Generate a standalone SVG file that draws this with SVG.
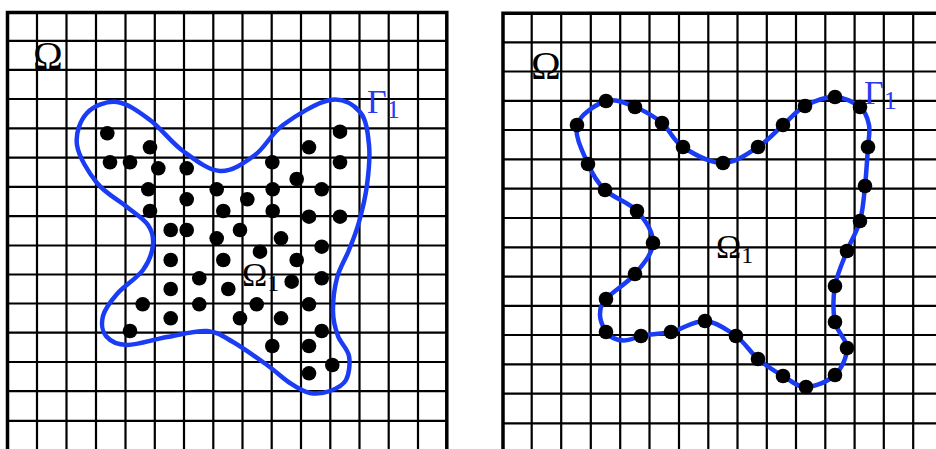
<svg xmlns="http://www.w3.org/2000/svg" width="936" height="449" viewBox="0 0 936 449">
<defs>
<style>
.grid{stroke:#000;stroke-width:2.2;fill:none}
.border{stroke:#000;stroke-width:3.5;fill:none;stroke-linecap:square}
.curve{stroke:#1a3cf4;stroke-width:4.5;fill:none;stroke-linejoin:round}
.dot{fill:#000}
.lbl{font-family:"Liberation Serif","Times New Roman",serif;fill:#000}
.gam{font-family:"Liberation Serif","Times New Roman",serif;fill:#2a3af0}
</style>
</defs>
<rect width="936" height="449" fill="#fff"/>

<g id="panel-left">
<g id="grid-left">
<path class="grid" d="M37,12.5V449M66.5,12.5V449M96,12.5V449M125.5,12.5V449M154.8,12.5V449M184,12.5V449M213.3,12.5V449M242.5,12.5V449M271.7,12.5V449M301,12.5V449M330.3,12.5V449M359.5,12.5V449M388.7,12.5V449M418,12.5V449
M7.5,40.8H446.8M7.5,69.8H446.8M7.5,99H446.8M7.5,128.3H446.8M7.5,157.6H446.8M7.5,186.9H446.8M7.5,216.2H446.8M7.5,245.5H446.8M7.5,274.5H446.8M7.5,303.5H446.8M7.5,332.7H446.8M7.5,362H446.8M7.5,391.2H446.8M7.5,420.8H446.8"/>
<path class="border" d="M7.5,449V12.5H446.8V449"/>
</g>
<g id="labels-left">
<text class="lbl" x="33" y="69" font-size="40">Ω</text>
<text class="lbl" x="242" y="286" font-size="34">Ω<tspan font-size="24" dy="5">1</tspan></text>
<text class="gam" x="367" y="113" font-size="34">Γ<tspan font-size="26" dy="5">1</tspan></text>
</g>
<g id="curve-left">
<path class="curve" d="M117,102 C127.5,103.2 139,111.8 150,120 S171.3,142.5 183,151 S208,170.3 220,171 S244.5,162.7 255,155 S270.5,134.2 283,125 S317.2,102.2 330,100 S353.5,104.5 360,112 S367.8,132.8 369,145 S368.7,172.2 367,185 S362,211.2 359,222 S352.7,240.7 349,250 S339.7,267.7 337,278 S332.8,302.3 333,312 S335.3,328.7 338,336 S347.7,348.7 349,356 S349.2,374.2 346,380 S336,388.8 330,391 S316.7,394.3 310,393 S297.2,387.7 290,383 S276.5,371.8 267,365 S243,347.7 233,342 S218,331.8 207,331 S180.3,334.7 167,337 S137.2,345.2 127,345 S110,340.8 106,336 S101.2,323 103,316 S110.3,301.7 117,294 S137,278.2 143,270 S152.2,252.5 153,245 S152.3,231.3 148,225 S135.5,214 127,207 S105.3,193.3 97,183 S78.7,156.7 77,145 S80.3,120.2 87,113 S106.5,100.8 117,102 Z"/>
</g>
<g id="dots-left" class="dot">
<circle cx="107.3" cy="133.3" r="7.3"/><circle cx="340" cy="131.7" r="7.3"/>
<circle cx="150" cy="147.3" r="7.3"/><circle cx="309" cy="147.3" r="7.3"/>
<circle cx="110" cy="162.3" r="7.3"/><circle cx="130" cy="162.3" r="7.3"/>
<circle cx="158.3" cy="168.3" r="7.3"/><circle cx="186.7" cy="168.3" r="7.3"/>
<circle cx="272.3" cy="162.3" r="7.3"/><circle cx="340" cy="162.3" r="7.3"/>
<circle cx="296.7" cy="179" r="7.3"/><circle cx="148.3" cy="189.3" r="7.3"/>
<circle cx="216.7" cy="189.3" r="7.3"/><circle cx="272.7" cy="189.3" r="7.3"/>
<circle cx="321.7" cy="189.3" r="7.3"/><circle cx="186.7" cy="199.3" r="7.3"/>
<circle cx="247.3" cy="199.3" r="7.3"/><circle cx="150" cy="211" r="7.3"/>
<circle cx="223.3" cy="211" r="7.3"/><circle cx="272.7" cy="211" r="7.3"/>
<circle cx="309" cy="216.7" r="7.3"/><circle cx="340" cy="216.7" r="7.3"/>
<circle cx="170.7" cy="230" r="7.3"/><circle cx="186.7" cy="230" r="7.3"/>
<circle cx="240" cy="230" r="7.3"/><circle cx="216.7" cy="238.3" r="7.3"/>
<circle cx="281" cy="238.3" r="7.3"/><circle cx="260" cy="251.7" r="7.3"/>
<circle cx="321.7" cy="246.7" r="7.3"/><circle cx="170.7" cy="260" r="7.3"/>
<circle cx="223.3" cy="260" r="7.3"/><circle cx="296.7" cy="260" r="7.3"/>
<circle cx="199.3" cy="278.3" r="7.3"/><circle cx="321.7" cy="278.3" r="7.3"/>
<circle cx="291.7" cy="281.7" r="7.3"/><circle cx="170.7" cy="289" r="7.3"/>
<circle cx="228.3" cy="289" r="7.3"/><circle cx="142.7" cy="304.3" r="7.3"/>
<circle cx="199.3" cy="304.3" r="7.3"/><circle cx="256.7" cy="304.3" r="7.3"/>
<circle cx="309" cy="304.3" r="7.3"/><circle cx="170.7" cy="318.3" r="7.3"/>
<circle cx="240" cy="318.3" r="7.3"/><circle cx="281" cy="318.3" r="7.3"/>
<circle cx="130" cy="331" r="7.3"/><circle cx="321.7" cy="331" r="7.3"/>
<circle cx="272.3" cy="346" r="7.3"/><circle cx="309" cy="346" r="7.3"/>
<circle cx="332.3" cy="365" r="7.3"/><circle cx="309" cy="373.3" r="7.3"/>
</g>
</g>

<g id="panel-right">
<g id="grid-right">
<path class="grid" d="M531.7,13.3V449M561.2,13.3V449M590.8,13.3V449M620.2,13.3V449M649.5,13.3V449M679,13.3V449M708.3,13.3V449M737.5,13.3V449M766.8,13.3V449M796,13.3V449M825.3,13.3V449M854.6,13.3V449M883.8,13.3V449M913.2,13.3V449
M502,42.3H936M502,71.5H936M502,100.8H936M502,130H936M502,159.3H936M502,188.6H936M502,218H936M502,247.3H936M502,276.6H936M502,305.8H936M502,335H936M502,364.3H936M502,393.6H936M502,423.3H936"/>
<path class="border" d="M503,449V13.3H938" stroke-width="4"/>
</g>
<g id="labels-right">
<text class="lbl" x="531" y="79" font-size="40">Ω</text>
<text class="lbl" x="716" y="258" font-size="34">Ω<tspan font-size="24" dy="5">1</tspan></text>
<text class="gam" x="864" y="104" font-size="34">Γ<tspan font-size="26" dy="5">1</tspan></text>
</g>
<g id="curve-right">
<path class="curve" d="M577,125 C580,114.5 596.3,104 606,101 S625.7,103.3 635,107 S654,116.3 662,123 S672.8,140.3 683,147 S710.5,163 723,163 S748,153.3 758,147 S775.2,131.8 783,125 S796.3,110.7 805,106 S825.8,96.8 835,97 S854.3,102.3 860,107 S867.7,118.3 869,125 S868.7,136.8 868,147 S866.3,173.7 865,186 S863,210.2 860,221 S851.2,240.2 847,251 S837,274.2 835,286 S833,311.7 835,322 S847,339.2 847,348 S841.8,368.5 835,375 S814.7,386.8 806,387 S791,380.7 783,376 S765.8,365.7 758,359 S744.8,342.3 736,336 S715.8,321.7 705,321 S681.7,329.5 671,332 S650,333.5 641,336 S631,340.5 624,340.5 S609,337 606,332 S600,320.5 600,315 S600.2,305.8 606,299 S627.2,283.3 635,274 S652.7,253.5 653,243 S645,219.8 637,211 S613.2,197.8 605,190 S592.7,174.8 588,164 S574,135.5 577,125 Z"/>
</g>
<g id="dots-right" class="dot">
<circle cx="577" cy="125" r="7.3"/><circle cx="606" cy="101" r="7.3"/>
<circle cx="635" cy="107" r="7.3"/><circle cx="662" cy="123" r="7.3"/>
<circle cx="683" cy="147" r="7.3"/><circle cx="723" cy="163" r="7.3"/>
<circle cx="758" cy="147" r="7.3"/><circle cx="783" cy="125" r="7.3"/>
<circle cx="805" cy="106" r="7.3"/><circle cx="835" cy="97" r="7.3"/>
<circle cx="860" cy="107" r="7.3"/><circle cx="868" cy="147" r="7.3"/>
<circle cx="865" cy="186" r="7.3"/><circle cx="860" cy="221" r="7.3"/>
<circle cx="847" cy="251" r="7.3"/><circle cx="835" cy="286" r="7.3"/>
<circle cx="835" cy="322" r="7.3"/><circle cx="847" cy="348" r="7.3"/>
<circle cx="835" cy="375" r="7.3"/><circle cx="806" cy="387" r="7.3"/>
<circle cx="783" cy="376" r="7.3"/><circle cx="758" cy="359" r="7.3"/>
<circle cx="736" cy="336" r="7.3"/><circle cx="705" cy="321" r="7.3"/>
<circle cx="671" cy="332" r="7.3"/><circle cx="641" cy="336" r="7.3"/>
<circle cx="606" cy="332" r="7.3"/><circle cx="606" cy="299" r="7.3"/>
<circle cx="635" cy="274" r="7.3"/><circle cx="653" cy="243" r="7.3"/>
<circle cx="637" cy="211" r="7.3"/><circle cx="605" cy="190" r="7.3"/>
<circle cx="588" cy="164" r="7.3"/>
</g>
</g>
</svg>
